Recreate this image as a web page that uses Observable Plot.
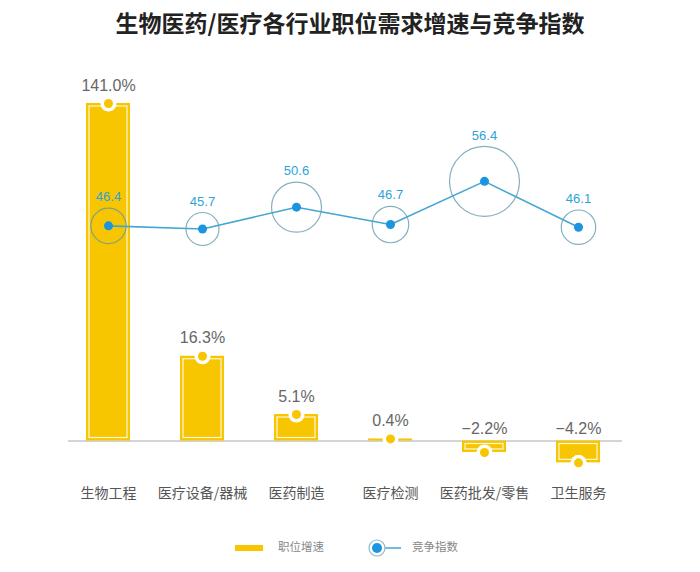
<!DOCTYPE html>
<html><head><meta charset="utf-8">
<script src="https://cdn.jsdelivr.net/npm/d3@7"></script>
<script src="https://cdn.jsdelivr.net/npm/@observablehq/plot@0.6"></script>
<style>
body{margin:0;background:#fff;}
#wrap{position:relative;width:700px;height:572px;overflow:hidden;font-family:"Noto Sans CJK SC",sans-serif;}
#title{position:absolute;top:6px;left:0;width:700px;text-align:center;font-size:23px;font-weight:bold;color:#222;line-height:32px;}
.layer{position:absolute;left:0;top:45px;}
#legend{position:absolute;left:0;top:533px;}
</style></head><body>
<div id="wrap">
<div id="title">生物医药/医疗各行业职位需求增速与竞争指数</div>
<div id="bars" class="layer"></div>
<div id="line" class="layer"></div>
<svg id="legend" width="700" height="30"></svg>
</div>
<script>
const categories = ["生物工程","医疗设备/器械","医药制造","医疗检测","医药批发/零售","卫生服务"];
const growth = [141.0, 16.3, 5.1, 0.4, -2.2, -4.2];
const competition = [46.4, 45.7, 50.6, 46.7, 56.4, 46.1];
const seriesNames = ["职位增速","竞争指数"];

const data = categories.map((c,i)=>({cat:c, growth:growth[i], comp:competition[i]}));
const yellow = "#F7C600";
const blue = "#1b95df";
const fmt = d3.format(".1f");
const numFont = "Liberation Sans, Arial, sans-serif";

const common = {
  width:700, height:460, marginLeft:60, marginRight:74, marginTop:58, marginBottom:30,
  style:{background:"transparent", overflow:"visible", fontSize:"14px", fontFamily:"Noto Sans CJK SC, sans-serif", color:"#555"}
};
const xBase = {domain:categories, paddingInner:0.53, paddingOuter:0.25};

const bars = Plot.plot({
  ...common,
  x:{...xBase, axis:"bottom", tickSize:0, tickPadding:13, label:null},
  y:{domain:[-6.63,64.9], clamp:true, axis:null},
  marks:[
    Plot.ruleY([0],{stroke:"#aaa", strokeWidth:1, insetLeft:8, insetRight:4}),
    Plot.barY(data,{x:"cat", y:"growth", fill:yellow}),
    Plot.barY(data,{x:"cat", y:"growth", fill:"none", stroke:"#fff", strokeOpacity:0.85, strokeWidth:1.2, inset:3}),
    Plot.dot(data,{x:"cat", y:"growth", r:8, fill:"#fff"}),
    Plot.dot(data,{x:"cat", y:"growth", r:4.5, fill:yellow}),
    Plot.text(data.filter(d=>d.growth>=0),{x:"cat", y:"growth", text:d=>fmt(d.growth)+"%", dy:-18, fontSize:16, fill:"#666", fontFamily:numFont}),
    Plot.text(data.filter(d=>d.growth<0),{x:"cat", y:()=>0, text:d=>fmt(d.growth)+"%", dy:-12, fontSize:16, fill:"#666", fontFamily:numFont})
  ]
});
document.getElementById("bars").append(bars);

const rOpts = {type:"linear", domain:[45.7,56.4], range:[16.5,35]};
const rScale = Plot.scale({r:rOpts});
const line = Plot.plot({
  ...common,
  x:{...xBase, axis:null},
  y:{domain:[-9.7,73.9], axis:null},
  r:rOpts,
  marks:[
    Plot.dot(data,{x:"cat", y:"comp", r:"comp", stroke:"#5d96a8", strokeOpacity:0.75, strokeWidth:1.2, fill:"none"}),
    Plot.line(data,{x:"cat", y:"comp", stroke:"#45a6d3", strokeWidth:1.6}),
    Plot.dot(data,{x:"cat", y:"comp", r:4.5, fill:blue}),
    ...data.map(d=>Plot.text([d],{x:"cat", y:"comp", text:e=>fmt(e.comp), dy:-(rScale.apply(d.comp)+11), fontSize:13, fill:"#2ea3d8", fontFamily:numFont}))
  ]
});
document.getElementById("line").append(line);

// legend
const lg = d3.select("#legend");
lg.append("rect").attr("x",235).attr("y",12).attr("width",28).attr("height",6).attr("fill",yellow);
lg.append("text").attr("x",278).attr("y",15).attr("dominant-baseline","middle").attr("font-size",11.5).attr("fill","#888").text(seriesNames[0]);
lg.append("line").attr("x1",377).attr("x2",401).attr("y1",15).attr("y2",15).attr("stroke","#45a6d3").attr("stroke-width",1.5);
lg.append("circle").attr("cx",377).attr("cy",15).attr("r",8).attr("fill","#fff").attr("stroke","#8fb9cc").attr("stroke-width",1.2);
lg.append("circle").attr("cx",377).attr("cy",15).attr("r",5).attr("fill",blue);
lg.append("text").attr("x",412).attr("y",15).attr("dominant-baseline","middle").attr("font-size",11.5).attr("fill","#888").text(seriesNames[1]);
</script>
</body></html>
